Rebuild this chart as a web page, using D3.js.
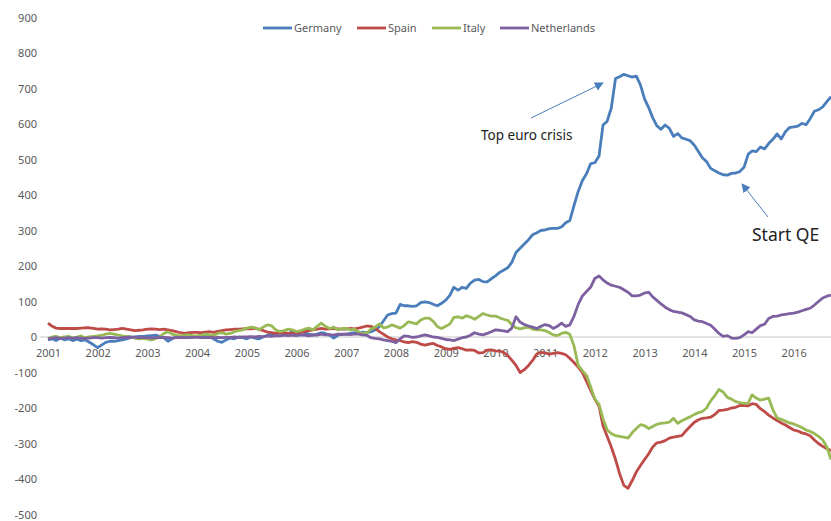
<!DOCTYPE html>
<html>
<head>
<meta charset="utf-8">
<script src="https://d3js.org/d3.v7.min.js"></script>
<style>
  body { margin: 0; background: #fff; }
  text { font-family: "Noto Sans", "Open Sans", sans-serif; }
</style>
</head>
<body>
<svg width="831" height="521"></svg>
<script>
// monthly values, Jan 2001 .. Oct 2016
const germany = [
  -8,-5,-10,-3,-8,-5,-10,-6,-10,-8,-15,-22,
  -30,-22,-15,-12,-12,-10,-8,-5,-2,0,2,2,
  3,4,5,2,-2,-12,-5,0,2,3,2,0,
  2,3,2,0,-5,-12,-15,-8,-3,-5,0,-2,
  -5,0,-3,-5,0,5,8,10,12,8,10,15,
  10,15,12,8,5,8,12,10,5,-3,5,8,
  8,10,12,10,14,12,15,20,29,45,62,66,
  67,92,88,88,86,88,97,99,97,92,88,95,
  104,118,140,132,140,137,152,160,162,156,155,164,
  172,182,188,195,210,238,250,262,274,288,294,300,
  302,305,306,306,310,322,328,370,410,440,460,488,
  491,510,597,608,645,728,733,740,736,732,735,710,
  670,645,618,595,585,597,588,565,573,561,557,553,
  540,522,505,494,475,468,462,457,456,461,462,466,
  478,515,524,522,535,530,545,557,572,558,578,590,
  592,594,602,598,615,636,640,648,663,677
];
const spain = [
  39,30,25,24,24,24,24,24,25,26,26,24,
  22,23,22,20,21,22,24,22,20,18,19,20,
  22,23,22,21,22,20,18,15,12,10,12,13,
  13,12,14,15,13,16,18,20,21,22,22,23,
  24,23,24,22,18,14,12,10,11,12,10,11,
  12,13,15,18,20,22,24,22,23,24,23,22,
  22,24,23,25,28,31,30,25,15,8,0,-5,
  -8,-10,-14,-16,-13,-15,-20,-23,-20,-18,-24,-28,
  -33,-35,-32,-30,-33,-37,-36,-38,-45,-44,-37,-36,
  -39,-40,-43,-52,-65,-80,-100,-92,-80,-66,-48,-43,
  -45,-48,-46,-44,-46,-50,-60,-72,-85,-100,-125,-150,
  -175,-195,-250,-280,-310,-345,-385,-418,-426,-405,-380,-362,
  -345,-328,-310,-298,-296,-292,-285,-282,-280,-278,-264,-252,
  -240,-233,-229,-228,-226,-218,-207,-206,-204,-200,-198,-193,
  -193,-194,-188,-190,-202,-210,-220,-228,-235,-242,-248,-255,
  -262,-265,-270,-273,-278,-290,-300,-308,-315,-320
];
const italy = [
  -4,0,2,-2,0,2,-3,0,3,-2,0,2,
  3,5,8,10,8,5,3,2,0,-3,-5,-4,
  -6,-8,-5,0,10,15,8,5,3,5,6,4,
  3,5,8,6,4,10,12,8,10,15,18,20,
  25,28,26,20,28,34,32,20,15,18,22,20,
  15,18,22,25,20,30,39,30,24,28,20,24,
  24,20,22,15,10,12,22,28,37,26,28,34,
  30,25,32,43,40,37,48,53,53,44,29,24,
  30,37,55,57,53,60,56,50,58,66,62,59,
  59,54,50,47,35,26,23,26,28,22,20,20,
  18,12,6,4,10,13,8,-25,-80,-95,-108,-140,
  -175,-190,-230,-262,-272,-278,-280,-282,-285,-270,-258,-247,
  -250,-258,-252,-246,-243,-242,-240,-229,-243,-236,-230,-225,
  -218,-213,-210,-200,-180,-165,-148,-155,-170,-175,-182,-185,
  -187,-186,-163,-172,-178,-175,-172,-205,-228,-232,-237,-242,
  -245,-250,-255,-262,-266,-272,-280,-290,-310,-345
];
const netherlands = [
  -5,-3,-2,-4,-3,-2,-3,-2,-3,-4,-3,-2,
  -2,-3,-2,-1,-2,-3,-2,-1,0,-1,-2,-2,
  -2,-3,-2,-2,-1,-2,-3,-2,-1,-2,-2,-1,
  -1,-2,-2,-1,-2,-1,-2,-1,-1,0,-1,0,
  0,1,0,2,1,3,2,4,3,5,4,5,
  4,6,5,3,6,5,8,6,7,5,8,7,
  8,7,9,8,6,5,-2,-4,-5,-8,-10,-12,
  -16,-5,3,2,-1,0,3,6,3,0,-1,-4,
  -7,-8,-10,-6,-2,0,5,12,8,6,10,15,
  20,19,17,15,25,57,42,35,31,28,24,30,
  35,32,24,30,39,30,34,58,92,115,128,140,
  165,172,161,152,146,143,140,133,126,116,116,118,
  124,126,113,103,93,84,77,72,70,68,63,58,
  48,45,43,38,33,22,10,2,4,-3,-4,-2,
  6,15,12,22,32,36,52,58,59,62,64,66,
  67,70,74,78,81,90,100,110,115,118
];
const seriesNames = ["Germany", "Spain", "Italy", "Netherlands"];
const seriesValues = [germany, spain, italy, netherlands];
const colors = ["#4a7ebb", "#be4b48", "#98b954", "#7d60a0"];
const yTicks = [900, 800, 700, 600, 500, 400, 300, 200, 100, 0, -100, -200, -300, -400, -500];
const years = d3.range(2001, 2017);

const svg = d3.select("svg");

const x = d3.scaleTime()
  .domain([new Date(2001, 0, 1), new Date(2016, 9, 1)])
  .range([48, 831]);
const y = d3.scaleLinear()
  .domain([-500, 900])
  .range([514.5, 17.5]);

const dates = germany.map((d, i) => new Date(2001, i, 1));

// y axis labels only
const yAxis = svg.append("g")
  .attr("transform", "translate(37,0)")
  .call(d3.axisLeft(y).tickValues(yTicks).tickFormat(d => String(d)).tickSize(0).tickPadding(0));
yAxis.select(".domain").remove();
yAxis.selectAll("text")
  .style("font-size", "11px")
  .style("fill", "#595959")
  .style("font-family", "'Noto Sans', sans-serif");

// x axis at zero
const xAxis = svg.append("g")
  .attr("transform", `translate(0,${y(0)})`)
  .call(d3.axisBottom(x)
    .tickValues(years.map(yr => new Date(yr, 0, 1)))
    .tickFormat(d3.timeFormat("%Y"))
    .tickSize(0)
    .tickPadding(12));
xAxis.select(".domain")
  .attr("d", `M40,0H831`)
  .style("stroke", "#d9d9d9")
  .style("stroke-width", 1.5);
xAxis.selectAll("text")
  .style("font-size", "11px")
  .style("fill", "#595959")
  .style("font-family", "'Noto Sans', sans-serif");

// lines
const line = d3.line()
  .x((d, i) => x(dates[i]))
  .y(d => y(d));

svg.append("g")
  .selectAll("path")
  .data(seriesValues)
  .join("path")
  .attr("d", d => line(d))
  .attr("fill", "none")
  .attr("stroke", (d, i) => colors[i])
  .attr("stroke-width", 2.8)
  .attr("stroke-linejoin", "round");

// legend
const legendX = [263, 357, 432, 500];
const legend = svg.append("g")
  .selectAll("g")
  .data(seriesNames)
  .join("g")
  .attr("transform", (d, i) => `translate(${legendX[i]},28)`);
legend.append("line")
  .attr("x1", 0).attr("x2", 29)
  .attr("stroke", (d, i) => colors[i])
  .attr("stroke-width", 2.8);
legend.append("text")
  .attr("x", 31)
  .attr("dy", "0.35em")
  .style("font-size", "11px")
  .style("fill", "#595959")
  .text(d => d);

// annotations
svg.append("defs").append("marker")
  .attr("id", "arrow")
  .attr("viewBox", "0 0 10 10")
  .attr("refX", 9).attr("refY", 5)
  .attr("markerWidth", 9).attr("markerHeight", 9)
  .attr("markerUnits", "userSpaceOnUse")
  .attr("orient", "auto")
  .append("path")
  .attr("d", "M0,0L10,5L0,10z")
  .attr("fill", "#4a7ebb");

svg.append("line")
  .attr("x1", 531).attr("y1", 118)
  .attr("x2", 603).attr("y2", 83)
  .attr("stroke", "#4a7ebb").attr("stroke-width", 1)
  .attr("marker-end", "url(#arrow)");
svg.append("line")
  .attr("x1", 768).attr("y1", 217)
  .attr("x2", 742).attr("y2", 184)
  .attr("stroke", "#4a7ebb").attr("stroke-width", 1)
  .attr("marker-end", "url(#arrow)");

svg.append("text")
  .attr("x", 481).attr("y", 140)
  .style("font-size", "13.5px")
  .style("fill", "#222")
  .text("Top euro crisis");
svg.append("text")
  .attr("x", 752).attr("y", 241)
  .style("font-size", "17.5px")
  .style("fill", "#222")
  .text("Start QE");
</script>
</body>
</html>
